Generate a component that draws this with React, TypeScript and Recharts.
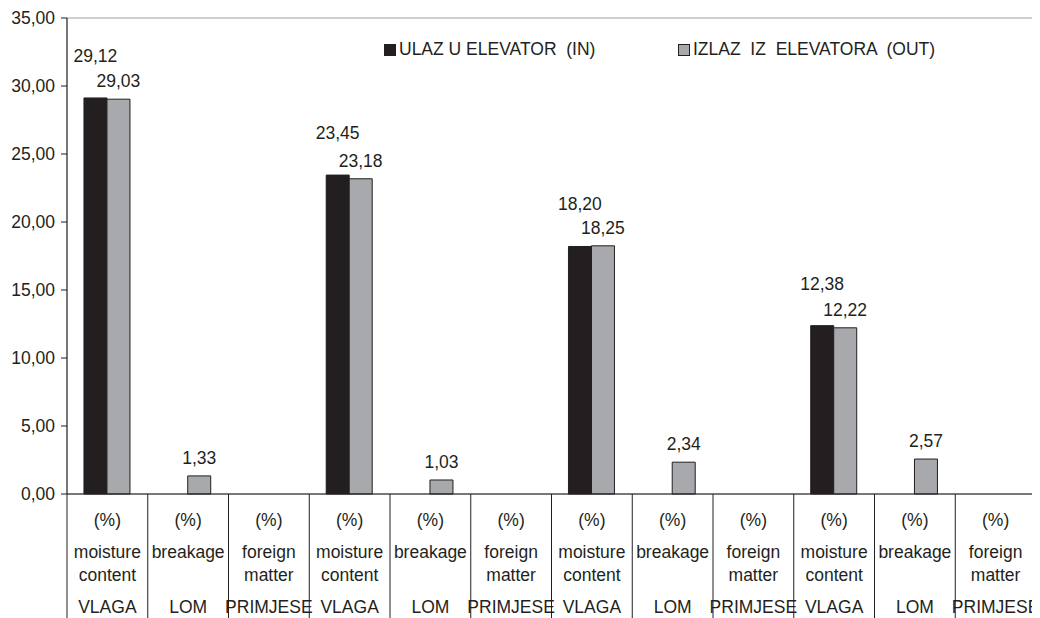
import React from "react";
import {
  Bar,
  BarChart,
  LabelList,
  Legend,
  ReferenceArea,
  XAxis,
  YAxis,
} from "recharts";

const groupNames = [
  "VLAGA", "LOM", "PRIMJESE",
  "VLAGA", "LOM", "PRIMJESE",
  "VLAGA", "LOM", "PRIMJESE",
  "VLAGA", "LOM", "PRIMJESE",
];
const englishNames = [
  ["moisture", "content"], ["breakage"], ["foreign", "matter"],
  ["moisture", "content"], ["breakage"], ["foreign", "matter"],
  ["moisture", "content"], ["breakage"], ["foreign", "matter"],
  ["moisture", "content"], ["breakage"], ["foreign", "matter"],
];
const unitLabel = "(%)";
const inValues = [29.12, 0, 0, 23.45, 0, 0, 18.2, 0, 0, 12.38, 0, 0];
const outValues = [29.03, 1.33, 0, 23.18, 1.03, 0, 18.25, 2.34, 0, 12.22, 2.57, 0];
const yTicks = [0, 5, 10, 15, 20, 25, 30, 35];
const inName = "ULAZ U ELEVATOR  (IN)";
const outName = "IZLAZ  IZ  ELEVATORA  (OUT)";

const rows = groupNames.map((g, i) => ({
  key: `${g}-${i}`,
  idx: i,
  in: inValues[i],
  out: outValues[i],
}));

const W = 1032;
const H = 610;
const M = { top: 10, right: 4, left: 0, bottom: 0 };
const Y_W = 59;
const X_H = 124;
const band = (W - M.left - M.right - Y_W) / rows.length;

const ink = "#231f20";
const gray = "#a7a9ac";
const border = "#a0a0a0";
const font = "'Liberation Sans', Arial, sans-serif";
const fs = 17.5;

const fmt = (v: number) => v.toFixed(2).replace(".", ",");

function CategoryTick(props: any) {
  const { x, y, payload, index } = props;
  const i = payload?.index ?? index;
  const left = x - band / 2;
  const right = x + band / 2;
  const eng = englishNames[i] || [];
  return (
    <g>
      <line x1={left} y1={y} x2={left} y2={H} stroke={ink} strokeWidth={1} />
      {i === rows.length - 1 && (
        <line x1={right} y1={y} x2={right} y2={H} stroke={border} strokeWidth={1} />
      )}
      <text x={x} y={y + 32} textAnchor="middle" fontSize={fs} fill={ink}>
        {unitLabel}
      </text>
      {eng.map((t, k) => (
        <text key={k} x={x} y={y + 64 + k * 23} textAnchor="middle" fontSize={fs} fill={ink}>
          {t}
        </text>
      ))}
      <text x={x} y={y + 119} textAnchor="middle" fontSize={fs} fill={ink}>
        {groupNames[i]}
      </text>
    </g>
  );
}

const makeLabel = (lift: number) => (p: any) => {
  const { x, y, width, value } = p;
  if (!value) return null;
  return (
    <text x={x + width / 2} y={y - lift} textAnchor="middle" fontSize={fs} fill={ink}>
      {fmt(value)}
    </text>
  );
};

function LegendBox() {
  const item = (color: string, label: string, left: number) => (
    <div style={{ position: "absolute", left, top: 0, display: "flex", alignItems: "center" }}>
      <span
        style={{
          display: "inline-block",
          width: 10,
          height: 10,
          background: color,
          border: `1px solid ${ink}`,
          marginRight: 3,
        }}
      />
      <span style={{ whiteSpace: "pre", fontSize: fs, color: ink, fontFamily: font }}>{label}</span>
    </div>
  );
  return (
    <div style={{ position: "relative", width: 620, height: 20 }}>
      {item(ink, inName, 0)}
      {item(gray, outName, 294)}
    </div>
  );
}

export default function App() {
  return (
    <div style={{ width: W, height: H, fontFamily: font, position: "relative" }}>
      <BarChart
        width={W}
        height={H}
        data={rows}
        margin={M}
        barCategoryGap="21%"
        barGap={0}
        style={{ fontFamily: font }}
      >
        <ReferenceArea y1={0} y2={35} fill="none" stroke={border} strokeWidth={1} ifOverflow="visible" />
        <XAxis
          dataKey="key"
          height={X_H}
          interval={0}
          tickLine={false}
          tickSize={0}
          tickMargin={0}
          axisLine={{ stroke: ink, strokeWidth: 1 }}
          tick={<CategoryTick />}
        />
        <YAxis
          width={Y_W}
          domain={[0, 35]}
          ticks={yTicks}
          interval={0}
          tickFormatter={fmt}
          tickSize={6}
          tickMargin={6}
          axisLine={{ stroke: ink, strokeWidth: 1 }}
          tickLine={{ stroke: ink, strokeWidth: 1 }}
          tick={{ fontSize: fs, fill: ink }}
        />
        <Legend
          layout="horizontal"
          verticalAlign="middle"
          align="center"
          wrapperStyle={{ position: "absolute", top: 31, left: 376, width: 620, height: 20 }}
          content={<LegendBox />}
        />
        <Bar dataKey="in" name={inName} fill={ink} stroke={ink} strokeWidth={1} isAnimationActive={false}>
          <LabelList dataKey="in" content={makeLabel(36)} />
        </Bar>
        <Bar dataKey="out" name={outName} fill={gray} stroke={ink} strokeWidth={1} isAnimationActive={false}>
          <LabelList dataKey="out" content={makeLabel(12)} />
        </Bar>
      </BarChart>
    </div>
  );
}
